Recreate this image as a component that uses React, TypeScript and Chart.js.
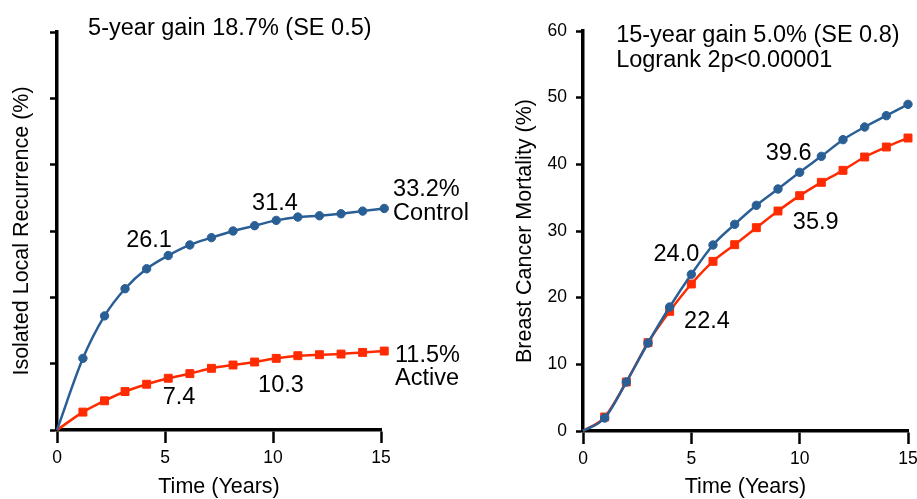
import React, { useEffect, useRef } from 'react';
import { Chart, registerables } from 'chart.js';

Chart.register(...registerables);

const FONT = '"Liberation Sans", Arial, Helvetica, sans-serif';
const BLUE = '#2A5F96';
const RED = '#FF2B00';

// Left panel: isolated local recurrence (%)
const yearsLeft = [0, 1.2, 2.2, 3.15, 4.15, 5.15, 6.15, 7.15, 8.15, 9.15, 10.15, 11.15, 12.15, 13.15, 14.15, 15.15];
const localControl = [0, 10.8, 17.2, 21.3, 24.3, 26.3, 27.9, 29.0, 30.0, 30.8, 31.6, 32.1, 32.3, 32.6, 33.0, 33.4];
const localActive = [0, 2.7, 4.4, 5.8, 6.9, 7.8, 8.5, 9.3, 9.8, 10.25, 10.8, 11.2, 11.35, 11.45, 11.7, 11.9];

// Right panel: breast cancer mortality (%)
const yearsRight = [0, 1, 2, 3, 4, 5, 6, 7, 8, 9, 10, 11, 12, 13, 14, 15];
const mortalityControl = [0, 1.95, 7.35, 13.2, 18.6, 23.5, 27.9, 31.0, 33.85, 36.3, 38.8, 41.2, 43.7, 45.6, 47.3, 49.0];
const mortalityActive = [0, 2.1, 7.35, 13.25, 17.95, 22.05, 25.45, 27.95, 30.5, 33.0, 35.3, 37.3, 39.1, 41.1, 42.6, 43.95];

const xTitle = 'Time (Years)';
const leftYTitle = 'Isolated Local Recurrence (%)';
const rightYTitle = 'Breast Cancer Mortality (%)';

// Annotations placed in data coordinates (years, %)
const leftNotes = [
  { text: '5-year gain 18.7% (SE 0.5)', t: 1.44, v: 60.45, align: 'left' },
  { text: '26.1', t: 4.26, v: 28.6, align: 'center' },
  { text: '31.4', t: 10.09, v: 34.2, align: 'center' },
  { text: '7.4', t: 5.65, v: 4.97, align: 'center' },
  { text: '10.3', t: 10.37, v: 6.78, align: 'center' },
  { text: '33.2%', t: 15.56, v: 36.3, align: 'left' },
  { text: 'Control', t: 15.56, v: 32.6, align: 'left' },
  { text: '11.5%', t: 15.65, v: 11.2, align: 'left' },
  { text: 'Active', t: 15.65, v: 7.75, align: 'left' },
];

const rightNotes = [
  { text: '15-year gain 5.0% (SE 0.8)', t: 1.53, v: 59.28, align: 'left' },
  { text: 'Logrank 2p<0.00001', t: 1.53, v: 55.5, align: 'left' },
  { text: '39.6', t: 9.49, v: 41.55, align: 'center' },
  { text: '35.9', t: 10.74, v: 31.2, align: 'center' },
  { text: '24.0', t: 4.31, v: 26.4, align: 'center' },
  { text: '22.4', t: 5.72, v: 16.35, align: 'center' },
];

const notesPlugin = {
  id: 'notes',
  beforeDatasetsDraw(chart: any, _args: any, opts: any) {
    const { ctx, scales } = chart;
    const items = (opts && opts.items) || [];
    ctx.save();
    ctx.fillStyle = '#000';
    ctx.font = `23.5px ${FONT}`;
    ctx.textBaseline = 'middle';
    for (const n of items) {
      ctx.textAlign = n.align;
      ctx.fillText(n.text, scales.x.getPixelForValue(n.t), scales.y.getPixelForValue(n.v));
    }
    ctx.restore();
  },
};

function toPoints(xs: number[], ys: number[]) {
  return xs.map((x, i) => ({ x, y: ys[i] }));
}

function makeConfig(opts: {
  xs: number[];
  control: number[];
  active: number[];
  notes: any[];
  yTitle: string;
  showYLabels: boolean;
  yWidth: number;
  xHeight: number;
  padTop: number;
  padRight: number;
  yTitlePad: number;
}) {
  const ds = (label: string, data: number[], color: string, style: string, radius: number) => ({
    label,
    data: toPoints(opts.xs, data),
    borderColor: color,
    backgroundColor: color,
    borderWidth: 2.5,
    pointStyle: style,
    pointRadius: (c: any) => (c.dataIndex === 0 ? 0 : radius),
    pointBorderWidth: 1,
    pointBackgroundColor: color,
    pointBorderColor: color,
    cubicInterpolationMode: 'monotone',
    clip: false,
  });
  return {
    type: 'line',
    data: {
      datasets: [
        ds('Control', opts.control, BLUE, 'circle', 4.2),
        ds('Active', opts.active, RED, 'rect', 5.6),
      ],
    },
    options: {
      responsive: false,
      animation: false,
      events: [],
      layout: { padding: { top: opts.padTop, right: opts.padRight, left: 0, bottom: 0 } },
      plugins: {
        legend: { display: false },
        tooltip: { enabled: false },
        notes: { items: opts.notes },
      },
      scales: {
        x: {
          type: 'linear',
          min: 0,
          max: 15,
          afterFit: (s: any) => {
            s.height = opts.xHeight;
          },
          ticks: {
            stepSize: 5,
            color: '#000',
            font: { family: FONT, size: 17.5 },
            padding: 5,
            maxRotation: 0,
            autoSkip: false,
          },
          grid: {
            drawOnChartArea: false,
            drawTicks: true,
            tickLength: 13,
            tickWidth: 2.5,
            tickColor: '#000',
          },
          border: { display: true, color: '#000', width: 3.5 },
          title: {
            display: true,
            text: xTitle,
            color: '#000',
            font: { family: FONT, size: 21.5, lineHeight: 1.1 },
            padding: { top: 0, bottom: 0 },
          },
        },
        y: {
          type: 'linear',
          min: 0,
          max: 60,
          afterFit: (s: any) => {
            s.width = opts.yWidth;
          },
          ticks: {
            display: opts.showYLabels,
            stepSize: 10,
            color: '#000',
            font: { family: FONT, size: 17.5 },
            padding: 9,
          },
          grid: {
            drawOnChartArea: false,
            drawTicks: true,
            tickLength: 7,
            tickWidth: 2.5,
            tickColor: '#000',
          },
          border: { display: true, color: '#000', width: 3.5 },
          title: {
            display: true,
            text: opts.yTitle,
            color: '#000',
            font: { family: FONT, size: 21.5, lineHeight: 1.1 },
            padding: { top: opts.yTitlePad, bottom: 0 },
          },
        },
      },
    },
    plugins: [notesPlugin],
  };
}

function Panel(props: { config: any; width: number; height: number; left: number }) {
  const ref = useRef<HTMLCanvasElement | null>(null);
  useEffect(() => {
    if (!ref.current) return;
    const chart = new Chart(ref.current, props.config);
    return () => chart.destroy();
  }, []);
  return (
    <canvas
      ref={ref}
      width={props.width}
      height={props.height}
      style={{ position: 'absolute', left: props.left, top: 0, width: props.width, height: props.height }}
    />
  );
}

export default function App() {
  const leftConfig = makeConfig({
    xs: yearsLeft,
    control: localControl,
    active: localActive,
    notes: leftNotes,
    yTitle: leftYTitle,
    showYLabels: false,
    yWidth: 57,
    xHeight: 69,
    padTop: 32,
    padRight: 99,
    yTitlePad: 10.5,
  });
  const rightConfig = makeConfig({
    xs: yearsRight,
    control: mortalityControl,
    active: mortalityActive,
    notes: rightNotes,
    yTitle: rightYTitle,
    showYLabels: true,
    yWidth: 103,
    xHeight: 68,
    padTop: 31,
    padRight: 32,
    yTitlePad: 33,
  });
  return (
    <div
      style={{
        position: 'fixed',
        left: 0,
        top: 0,
        width: 917,
        height: 499,
        overflow: 'hidden',
        background: '#fff',
      }}
    >
      <Panel config={leftConfig} width={480} height={499} left={0} />
      <Panel config={rightConfig} width={460} height={499} left={480} />
    </div>
  );
}
